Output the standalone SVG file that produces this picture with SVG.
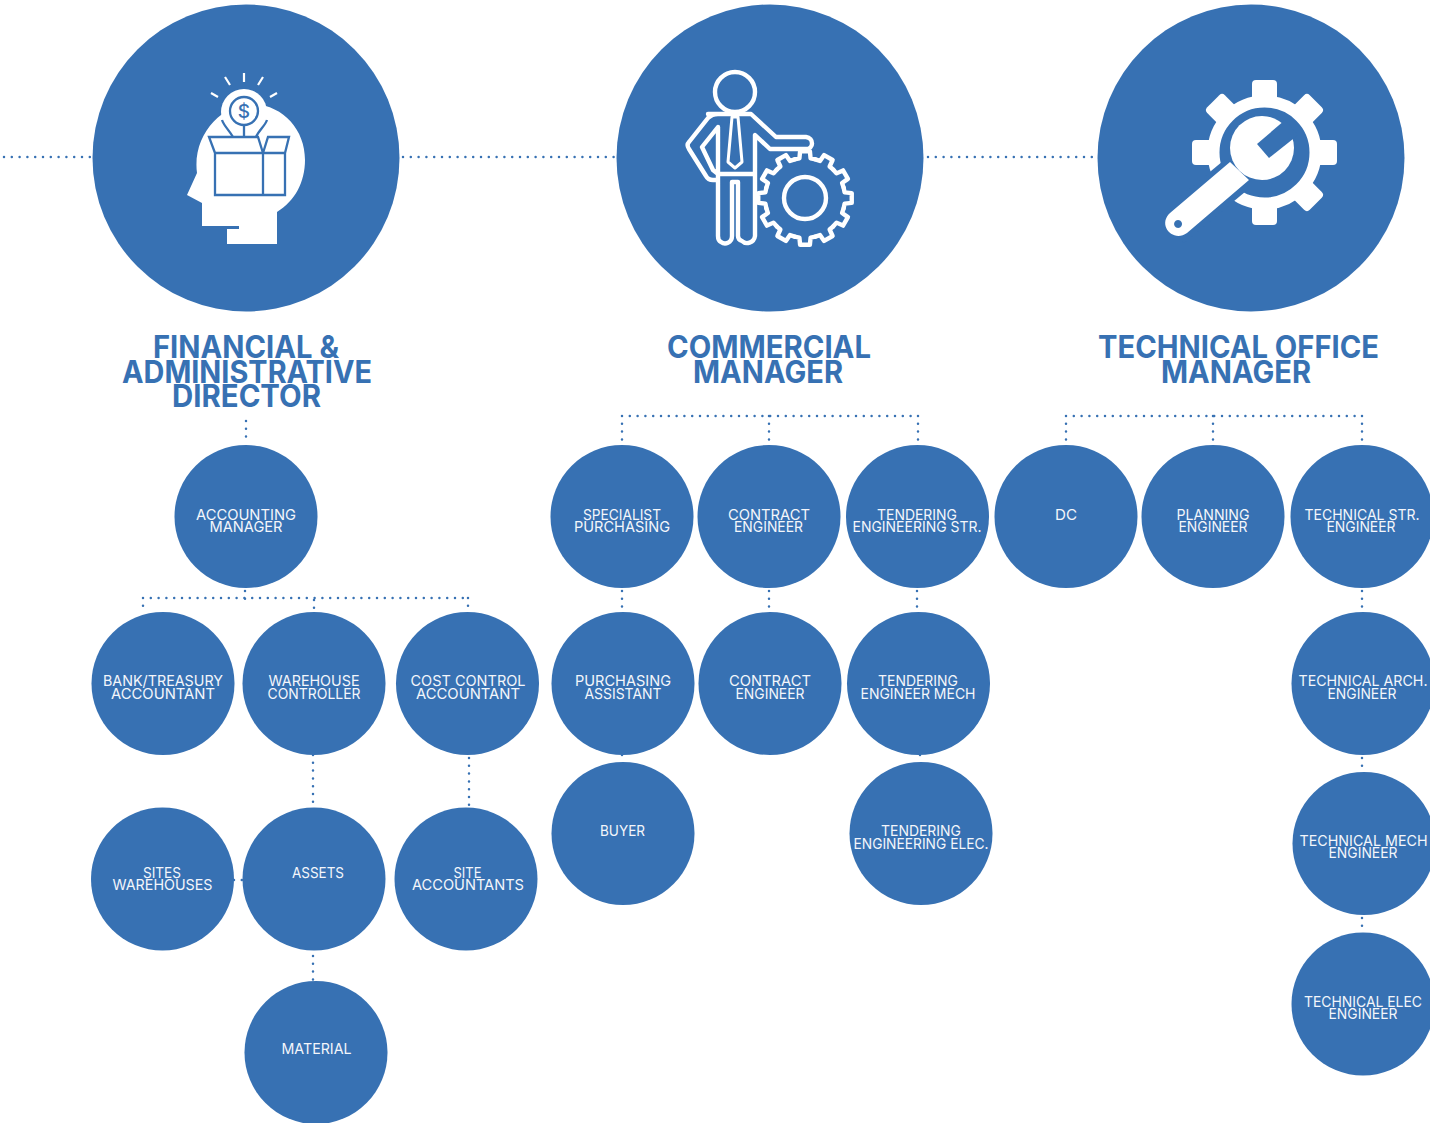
<svg xmlns="http://www.w3.org/2000/svg" xmlns:xlink="http://www.w3.org/1999/xlink" width="1430" height="1123" viewBox="0 0 1430 1123">
<style>
.c{fill:#3771b3}
.l{fill:#f3f6fb;font:400 15px Inter,"Open Sans","Liberation Sans",sans-serif;text-anchor:middle}
.t{fill:#3771b3;font:700 31px Inter,"Open Sans","Liberation Sans",sans-serif;text-anchor:middle}
.d{fill:none;stroke:#3771b3;stroke-width:2.5;stroke-linecap:round;stroke-dasharray:0 7.8}
.w{fill:#fff}
.s{fill:none;stroke:#fff;stroke-width:4.4;stroke-linejoin:round;stroke-linecap:round}
.b{fill:none;stroke:#3771b3;stroke-width:2.3;stroke-linejoin:miter}
</style>
<defs>
<path id="cog" class="s" d="M-10.350 -38.640L-5.570 -39.600L-4.910 -46.740H4.910L5.570 -39.600L10.350 -38.640"/>
<rect id="tooth" class="w" x="-12.500" y="-72.500" width="25" height="26" rx="4"/>
</defs>
<rect width="1430" height="1123" fill="#fff"/>
<g id="connectors">
<path class="d" d="M4 157H92M403 157H616M928 157H1097"/>
<path class="d" d="M246 421V441M245 591V599M143 598H468M143 598V611M314 600V608M468 598V608"/>
<path class="d" d="M313 755V803M469 758V805M234 880H243M313 956V980"/>
<path class="d" d="M622 416H918M622 416V441M769 416V441M918 416V441"/>
<path class="d" d="M622 591V607M769 591V607M917 591V607M622 755V758M920 755V758"/>
<path class="d" d="M1066 416H1362M1066 416V441M1213 416V441M1362 416V441"/>
<path class="d" d="M1362 591V607M1362 758V766M1362 918V928"/>
</g>
<g id="financial-director"><circle class="c" cx="246" cy="158" r="153.5"/>
<path class="w" d="M187 195L197 173C192 135 222 103 254 104C284 106 305 130 305 160C305 182 295 201 277 212V244H227V229H239V226H202V203Z"/>
<path class="s" style="stroke-width:2.2;stroke-linecap:butt" d="M244 73V82M225 77L230 85M263 77L258 85M211 93L218 97M277 93L270 97"/>
<circle cx="244" cy="112" r="23" fill="#fff"/>
<circle cx="244" cy="111" r="14" fill="#fff" stroke="#3771b3" stroke-width="2.3"/>
<path class="w" d="M222 120L233 137H256L267 120L244 128Z"/>
<path class="b" d="M222 120C224 126 229 130 233 137M267 120C265 126 259 130 256 137M244 126V137"/>
<text x="244" y="118" font-family="Inter,'Liberation Sans',sans-serif" font-size="19" font-weight="500" fill="#3771b3" text-anchor="middle">$</text>
<path class="w" d="M209 137H290L285 196H215Z"/>
<path class="b" d="M209 137H258L263 153H215ZM263 153L268 137H289L285 153ZM215 153V195H285V153M263 153V195"/>
</g>
<g id="commercial-manager"><circle class="c" cx="770" cy="158" r="153.5"/>
<circle class="s" cx="735" cy="92" r="20"/>
<path class="s" d="M708 114H751L776 137H806C814 138 814 149 806 149H770L755 135V236C754 243 746 245 742 241C739 240 738 238 738 236V182H732V236C732 243 725 245 721 242C719 241 718 239 718 236V127L702 147L713 170L718 174H753M718 180H713C709 180 707 178 706 176L689 149C687 146 687 144 689 142L708 118C711 115 714 114 718 114"/>
<path class="s" style="stroke-width:3" d="M732 117H738L742 162L735 168L728 162Z"/>
<circle class="s" cx="805" cy="198" r="21"/>
<g transform="translate(805 198)"><use xlink:href="#cog" href="#cog"/><use href="#cog" transform="rotate(30)"/><use href="#cog" transform="rotate(60)"/><use href="#cog" transform="rotate(90)"/><use href="#cog" transform="rotate(120)"/><use href="#cog" transform="rotate(150)"/><use href="#cog" transform="rotate(180)"/><use href="#cog" transform="rotate(210)"/><use href="#cog" transform="rotate(240)"/><use href="#cog" transform="rotate(270)"/><use href="#cog" transform="rotate(300)"/><use href="#cog" transform="rotate(330)"/></g>
</g>
<g id="technical-manager"><circle class="c" cx="1251" cy="158" r="153.5"/>
<circle cx="1264.500" cy="152.500" r="51" fill="none" stroke="#fff" stroke-width="12"/>
<g transform="translate(1264.500 152.500)"><use href="#tooth"/><use href="#tooth" transform="rotate(45)"/><use href="#tooth" transform="rotate(90)"/><use href="#tooth" transform="rotate(135)"/><use href="#tooth" transform="rotate(180)"/><use href="#tooth" transform="rotate(270)"/><use href="#tooth" transform="rotate(315)"/></g>
<path d="M1171.600 228.300L1237 174" fill="none" stroke="#3771b3" stroke-width="38"/>
<circle class="w" cx="1262" cy="148" r="32"/>
<path class="w" fill-rule="evenodd" d="M1230 162L1170 213C1157 225 1173 243 1187 233L1249 180ZM1178 220a4 4 0 1 0 .1 0Z"/>
<path class="c" d="M1285 120L1257 144L1269 158L1298 135Z"/>
</g>
<g id="financial-title"><text class="t" x="246" y="358" textLength="186" lengthAdjust="spacingAndGlyphs">FINANCIAL &amp;</text><text class="t" x="247" y="383" textLength="250" lengthAdjust="spacingAndGlyphs">ADMINISTRATIVE</text><text class="t" x="246.500" y="407" textLength="149" lengthAdjust="spacingAndGlyphs">DIRECTOR</text></g>
<g id="commercial-title"><text class="t" x="769" y="358" textLength="204" lengthAdjust="spacingAndGlyphs">COMMERCIAL</text><text class="t" x="768" y="383" textLength="150" lengthAdjust="spacingAndGlyphs">MANAGER</text></g>
<g id="technical-title"><text class="t" x="1238.500" y="358" textLength="281" lengthAdjust="spacingAndGlyphs">TECHNICAL OFFICE</text><text class="t" x="1236" y="383" textLength="150" lengthAdjust="spacingAndGlyphs">MANAGER</text></g>
<g id="accounting-manager"><circle class="c" cx="246" cy="516.500" r="71.500"/><text class="l" x="246" y="520" textLength="100" lengthAdjust="spacingAndGlyphs">ACCOUNTING</text><text class="l" x="246" y="532" textLength="73" lengthAdjust="spacingAndGlyphs">MANAGER</text></g>
<g id="bank-treasury"><circle class="c" cx="163" cy="683.500" r="71.500"/><text class="l" x="163" y="686" textLength="120" lengthAdjust="spacingAndGlyphs">BANK/TREASURY</text><text class="l" x="163" y="699" textLength="104" lengthAdjust="spacingAndGlyphs">ACCOUNTANT</text></g>
<g id="warehouse-controller"><circle class="c" cx="314" cy="683.500" r="71.500"/><text class="l" x="314" y="686" textLength="91" lengthAdjust="spacingAndGlyphs">WAREHOUSE</text><text class="l" x="314" y="699" textLength="93" lengthAdjust="spacingAndGlyphs">CONTROLLER</text></g>
<g id="cost-control"><circle class="c" cx="467.500" cy="683.500" r="71.500"/><text class="l" x="468" y="686" textLength="115" lengthAdjust="spacingAndGlyphs">COST CONTROL</text><text class="l" x="468" y="699" textLength="104" lengthAdjust="spacingAndGlyphs">ACCOUNTANT</text></g>
<g id="sites-warehouses"><circle class="c" cx="162.500" cy="879" r="71.500"/><text class="l" x="162" y="878" textLength="38" lengthAdjust="spacingAndGlyphs">SITES</text><text class="l" x="162.500" y="890" textLength="100" lengthAdjust="spacingAndGlyphs">WAREHOUSES</text></g>
<g id="assets"><circle class="c" cx="314" cy="879" r="71.500"/><text class="l" x="318" y="878" textLength="52" lengthAdjust="spacingAndGlyphs">ASSETS</text></g>
<g id="site-accountants"><circle class="c" cx="466" cy="879" r="71.500"/><text class="l" x="467.500" y="878" textLength="28" lengthAdjust="spacingAndGlyphs">SITE</text><text class="l" x="468" y="890" textLength="112" lengthAdjust="spacingAndGlyphs">ACCOUNTANTS</text></g>
<g id="material"><circle class="c" cx="316" cy="1052.500" r="71.500"/><text class="l" x="316.500" y="1054" textLength="70" lengthAdjust="spacingAndGlyphs">MATERIAL</text></g>
<g id="specialist-purchasing"><circle class="c" cx="622" cy="516.500" r="71.500"/><text class="l" x="622" y="520" textLength="78" lengthAdjust="spacingAndGlyphs">SPECIALIST</text><text class="l" x="622" y="532" textLength="96" lengthAdjust="spacingAndGlyphs">PURCHASING</text></g>
<g id="contract-engineer-1"><circle class="c" cx="769" cy="516.500" r="71.500"/><text class="l" x="769" y="520" textLength="82" lengthAdjust="spacingAndGlyphs">CONTRACT</text><text class="l" x="768.500" y="532" textLength="69" lengthAdjust="spacingAndGlyphs">ENGINEER</text></g>
<g id="tendering-str"><circle class="c" cx="917.500" cy="516.500" r="71.500"/><text class="l" x="917" y="520" textLength="80" lengthAdjust="spacingAndGlyphs">TENDERING</text><text class="l" x="917" y="532" textLength="129" lengthAdjust="spacingAndGlyphs">ENGINEERING STR.</text></g>
<g id="dc"><circle class="c" cx="1066" cy="516.500" r="71.500"/><text class="l" x="1066" y="520" textLength="22" lengthAdjust="spacingAndGlyphs">DC</text></g>
<g id="planning-engineer"><circle class="c" cx="1213" cy="516.500" r="71.500"/><text class="l" x="1213" y="520" textLength="73" lengthAdjust="spacingAndGlyphs">PLANNING</text><text class="l" x="1213" y="532" textLength="69" lengthAdjust="spacingAndGlyphs">ENGINEER</text></g>
<g id="technical-str"><circle class="c" cx="1362" cy="516.500" r="71.500"/><text class="l" x="1362" y="520" textLength="115" lengthAdjust="spacingAndGlyphs">TECHNICAL STR.</text><text class="l" x="1361" y="532" textLength="69" lengthAdjust="spacingAndGlyphs">ENGINEER</text></g>
<g id="purchasing-assistant"><circle class="c" cx="623" cy="683.500" r="71.500"/><text class="l" x="623" y="686" textLength="96" lengthAdjust="spacingAndGlyphs">PURCHASING</text><text class="l" x="623" y="699" textLength="77" lengthAdjust="spacingAndGlyphs">ASSISTANT</text></g>
<g id="contract-engineer-2"><circle class="c" cx="770" cy="683.500" r="71.500"/><text class="l" x="770" y="686" textLength="82" lengthAdjust="spacingAndGlyphs">CONTRACT</text><text class="l" x="770" y="699" textLength="69" lengthAdjust="spacingAndGlyphs">ENGINEER</text></g>
<g id="tendering-mech"><circle class="c" cx="918.500" cy="683.500" r="71.500"/><text class="l" x="918" y="686" textLength="80" lengthAdjust="spacingAndGlyphs">TENDERING</text><text class="l" x="918" y="699" textLength="115" lengthAdjust="spacingAndGlyphs">ENGINEER MECH</text></g>
<g id="technical-arch"><circle class="c" cx="1363" cy="683.500" r="71.500"/><text class="l" x="1363" y="686" textLength="129" lengthAdjust="spacingAndGlyphs">TECHNICAL ARCH.</text><text class="l" x="1362" y="699" textLength="69" lengthAdjust="spacingAndGlyphs">ENGINEER</text></g>
<g id="buyer"><circle class="c" cx="623" cy="833.500" r="71.500"/><text class="l" x="622.500" y="836" textLength="45" lengthAdjust="spacingAndGlyphs">BUYER</text></g>
<g id="tendering-elec"><circle class="c" cx="921" cy="833.500" r="71.500"/><text class="l" x="921" y="836" textLength="80" lengthAdjust="spacingAndGlyphs">TENDERING</text><text class="l" x="921" y="849" textLength="135" lengthAdjust="spacingAndGlyphs">ENGINEERING ELEC.</text></g>
<g id="technical-mech"><circle class="c" cx="1364" cy="843.500" r="71.500"/><text class="l" x="1363.500" y="846" textLength="128" lengthAdjust="spacingAndGlyphs">TECHNICAL MECH</text><text class="l" x="1363" y="858" textLength="69" lengthAdjust="spacingAndGlyphs">ENGINEER</text></g>
<g id="technical-elec"><circle class="c" cx="1363" cy="1004" r="71.500"/><text class="l" x="1363" y="1007" textLength="118" lengthAdjust="spacingAndGlyphs">TECHNICAL ELEC</text><text class="l" x="1363" y="1019" textLength="69" lengthAdjust="spacingAndGlyphs">ENGINEER</text></g>
</svg>
